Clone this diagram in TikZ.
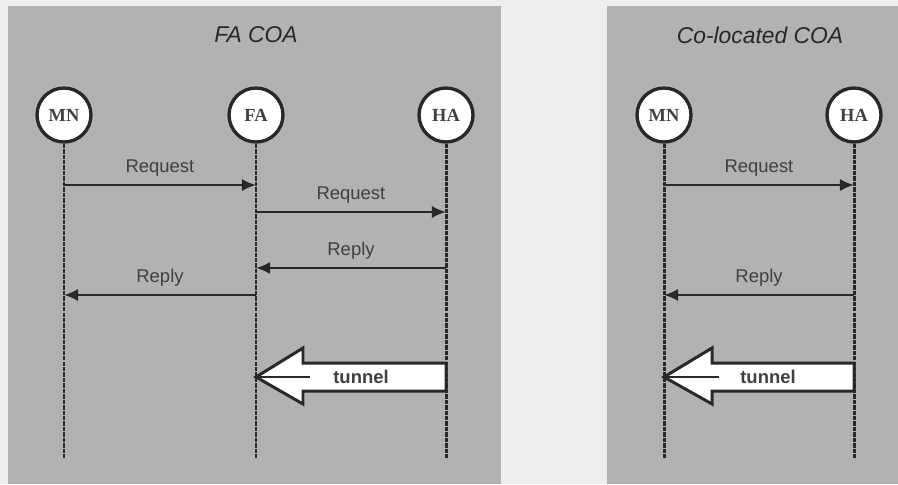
\documentclass[tikz,border=0pt]{standalone}
\usepackage{fontspec}
\setmainfont{Liberation Serif}
\setsansfont{Liberation Sans}
\usepackage{tikz}
\usetikzlibrary{arrows.meta,positioning,calc}

\definecolor{bggray}{RGB}{238,238,238}
\definecolor{panelgray}{RGB}{178,178,178}
\definecolor{inkgray}{RGB}{40,40,40}

\begin{document}
\begin{tikzpicture}[
    x=0.02cm, y=-0.02cm,
    panel/.style={fill=panelgray, draw=none},
    title/.style={font=\sffamily\itshape\fontsize{13}{15}\selectfont, text=inkgray},
    entity/.style={circle, draw=inkgray, line width=1.9pt, fill=white, minimum size=1.08cm,
                   inner sep=0pt, font=\bfseries\fontsize{10.5}{13}\selectfont, text=black!75},
    lifeline/.style={draw=inkgray, line width=1.7pt, dash pattern=on 2.5pt off 0.6pt},
    msg/.style={draw=inkgray, line width=1.5pt, -{Latex[length=8pt,width=7pt]}},
    msglabel/.style={font=\sffamily\fontsize{10.5}{12}\selectfont, text=black!75, above=1pt},
    tunnelbox/.style={draw=inkgray, line width=1.7pt, fill=white, line join=miter},
    tunnellabel/.style={font=\sffamily\bfseries\fontsize{10.5}{12}\selectfont, text=black!75}
]
    % Background and panels
    \fill[bggray] (0,0) rectangle (898,484);
    \useasboundingbox (0,0) rectangle (898,484);
    \fill[panel] (8,6) rectangle (501,484);
    \fill[panel] (607,6) rectangle (898,484);

    % ---- FA COA ----
    \node[title] (t1) at (256,35) {FA COA};
    \node[entity] (mn1) at (64,115) {MN};
    \node[entity] (fa1) at (256,115) {FA};
    \node[entity] (ha1) at (446,115) {HA};

    % Lifelines
    \foreach \n/\x in {mn1/64, fa1/256, ha1/446} {
        \coordinate (\n end) at (\x,458);
        \draw[lifeline] (\n) -- (\n end);
    }

    % Messages
    \coordinate (mn1a) at (64,185);   \coordinate (fa1a) at (256,185);
    \coordinate (fa1b) at (256,212);  \coordinate (ha1b) at (446,212);
    \coordinate (ha1c) at (446,268);  \coordinate (fa1c) at (256,268);
    \coordinate (fa1d) at (256,295);  \coordinate (mn1d) at (64,295);
    \draw[msg] (mn1a) -- node[msglabel] {Request} (fa1a);
    \draw[msg] (fa1b) -- node[msglabel] {Request} (ha1b);
    \draw[msg] (ha1c) -- node[msglabel] {Reply} (fa1c);
    \draw[msg] (fa1d) -- node[msglabel] {Reply} (mn1d);

    % Tunnel
    \coordinate (fa1t) at (256,377);
    \coordinate (ha1t) at (446,377);
    \draw[tunnelbox] ($(ha1t)+(0,-14)$) -- (303,363) -- (303,348) -- (fa1t)
        -- (303,404) -- (303,391) -- ($(ha1t)+(0,14)$) -- cycle;
    \coordinate (fa1s) at (310,377);
    \draw[inkgray, line width=1.5pt] (fa1t) -- (fa1s);
    \node[tunnellabel] (tun1) at (361,377) {tunnel};

    % ---- Co-located COA ----
    \node[title] (t2) at (760,35) {Co-located COA};
    \node[entity] (mn2) at (664,115) {MN};
    \node[entity] (ha2) at (854,115) {HA};

    \foreach \n/\x in {mn2/664, ha2/854} {
        \coordinate (\n end) at (\x,458);
        \draw[lifeline] (\n) -- (\n end);
    }

    \coordinate (mn2a) at (664,185);  \coordinate (ha2a) at (854,185);
    \coordinate (ha2d) at (854,295);  \coordinate (mn2d) at (664,295);
    \draw[msg] (mn2a) -- node[msglabel] {Request} (ha2a);
    \draw[msg] (ha2d) -- node[msglabel] {Reply} (mn2d);

    \coordinate (mn2t) at (664,377);
    \coordinate (ha2t) at (854,377);
    \draw[tunnelbox] ($(ha2t)+(0,-14)$) -- (712,363) -- (712,348) -- (mn2t)
        -- (712,404) -- (712,391) -- ($(ha2t)+(0,14)$) -- cycle;
    \coordinate (mn2s) at (719,377);
    \draw[inkgray, line width=1.5pt] (mn2t) -- (mn2s);
    \node[tunnellabel] (tun2) at (768,377) {tunnel};
\end{tikzpicture}
\end{document}
